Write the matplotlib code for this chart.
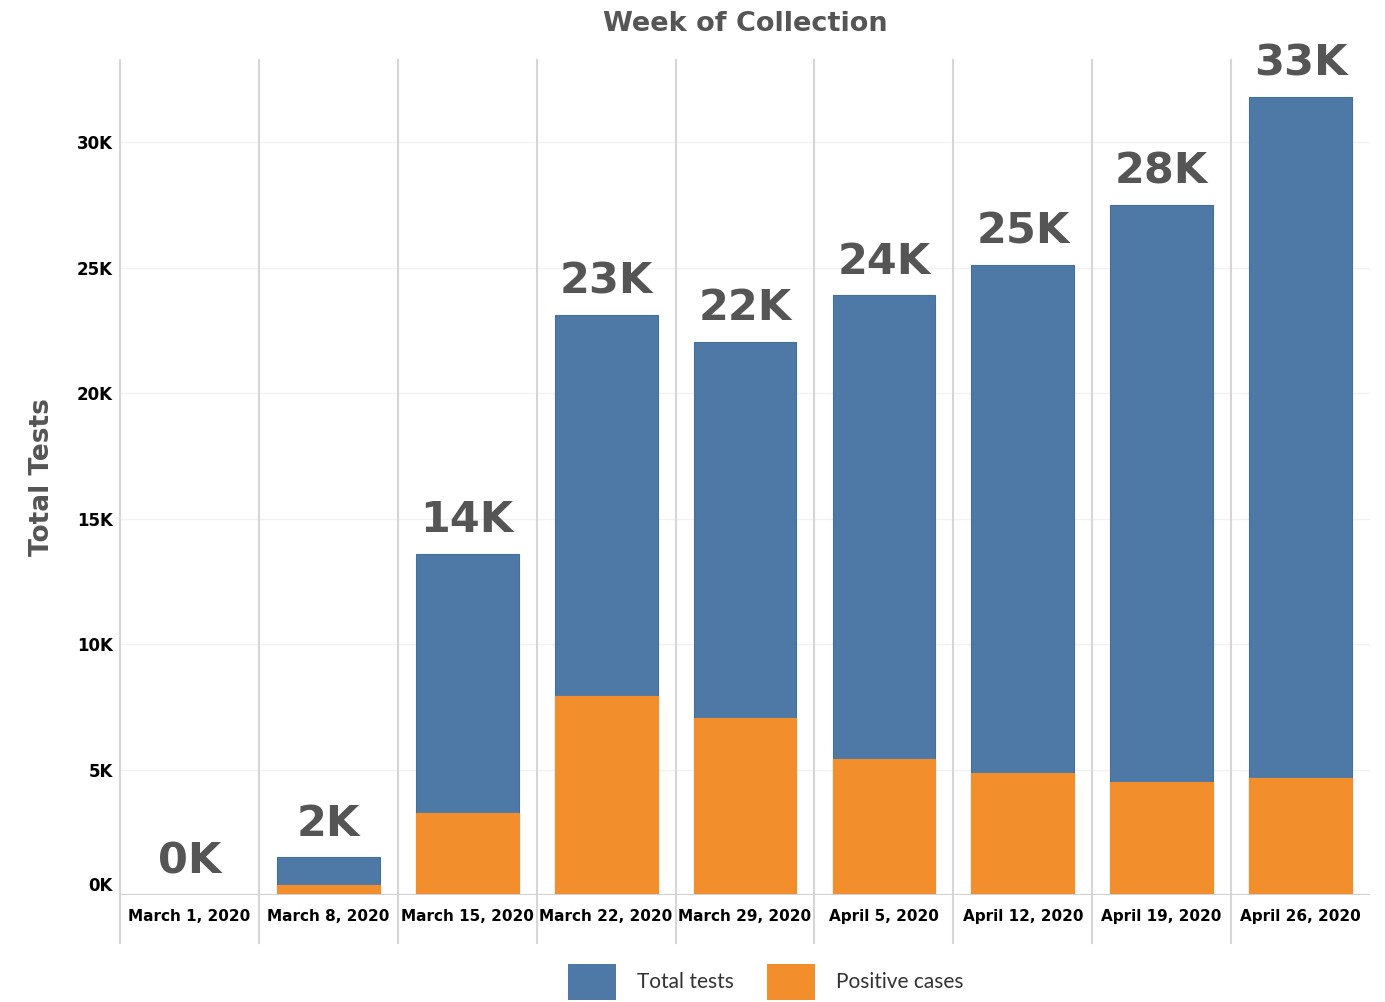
import matplotlib.pyplot as plt
from matplotlib.patches import Patch

weeks = ['March 1, 2020', 'March 8, 2020', 'March 15, 2020', 'March 22, 2020',
         'March 29, 2020', 'April 5, 2020', 'April 12, 2020', 'April 19, 2020',
         'April 26, 2020']
total_tests = [0, 1500, 13600, 23100, 22050, 23900, 25100, 27500, 31800]
positive_cases = [0, 400, 3270, 7930, 7050, 5420, 4860, 4500, 4660]
total_labels = ['0K', '2K', '14K', '23K', '22K', '24K', '25K', '28K', '33K']
y_ticks = [0, 5000, 10000, 15000, 20000, 25000, 30000]
y_tick_labels = ['0K', '5K', '10K', '15K', '20K', '25K', '30K']

blue = '#4e79a7'
orange = '#f28e2b'
gray_text = '#555555'
bold_font = ['DejaVu Sans']

plt.rcParams['font.family'] = ['Lato', 'DejaVu Sans']

fig = plt.figure(figsize=(13.85, 10.02), dpi=100)
ax = fig.add_axes([120 / 1385, 1 - 895 / 1002, 1250 / 1385, 835 / 1002])

x = list(range(len(weeks)))
ax.bar(x, total_tests, width=0.74, color=blue, edgecolor='#44709c', linewidth=0.8, zorder=3)
ax.bar(x, positive_cases, width=0.74, color=orange, edgecolor=orange, linewidth=0.8, zorder=4)

for i, (v, lab) in enumerate(zip(total_tests, total_labels)):
    ax.annotate(lab, (i, v), xytext=(0, 9), textcoords='offset points',
                ha='center', va='bottom', fontsize=31, fontweight='bold',
                family=bold_font, color=gray_text, zorder=5)

ax.set_xlim(-0.5, len(weeks) - 0.5)
ax.set_ylim(0, 33270)

# vertical separators between weeks, extending down through the labels
for i in range(len(weeks)):
    ax.axvline(i - 0.5, ymin=-0.0575, ymax=1, color='#d6d6d6', linewidth=1.5,
               clip_on=False, zorder=1)

for t in y_ticks[1:]:
    ax.axhline(t, color='#f2f2f2', linewidth=1, zorder=0)
ax.axhline(0, color='#d0d0d0', linewidth=1.5, zorder=6)

for s in ax.spines.values():
    s.set_visible(False)

ax.set_yticks(y_ticks)
ax.set_yticklabels(y_tick_labels, fontsize=12, fontweight='bold', color='black',
                   family=bold_font)
ax.get_yticklabels()[0].set_verticalalignment('bottom')
ax.set_xticks(x)
ax.set_xticklabels(weeks, fontsize=11, fontweight='bold', color='black',
                   family=bold_font)
ax.tick_params(axis='both', length=0)
ax.tick_params(axis='y', pad=5)
ax.tick_params(axis='x', pad=10)

ax.set_title('Week of Collection', fontsize=19.5, fontweight='bold', color=gray_text,
             pad=21, family=bold_font)
ax.set_ylabel('Total Tests', fontsize=19, fontweight='bold', color=gray_text,
              labelpad=16, family=bold_font)

handles = [Patch(facecolor=blue, label='Total tests'),
           Patch(facecolor=orange, label='Positive cases')]
fig.legend(handles=handles, loc='center', bbox_to_anchor=(0.553, 0.02), ncol=2,
           frameon=False, fontsize=15, handlelength=2.3, handleheight=2.3,
           handletextpad=1.0, columnspacing=1.6, labelcolor='#333333')

fig.savefig('out.png', dpi=100)
